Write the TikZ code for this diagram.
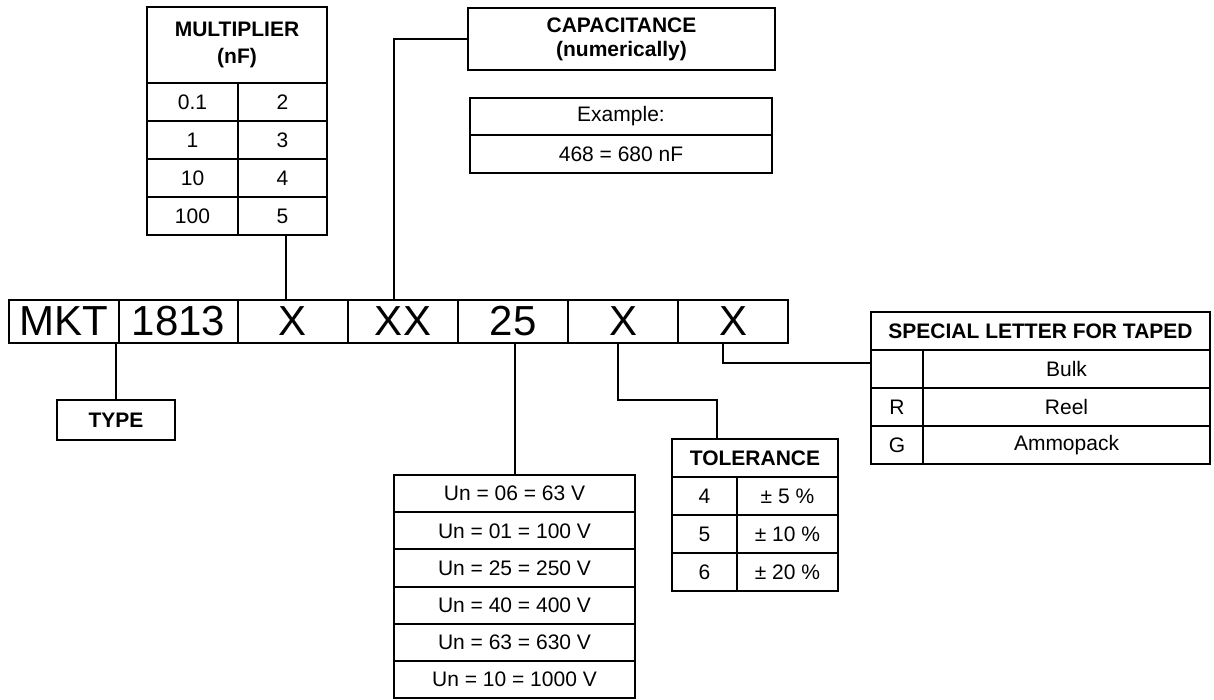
\documentclass[tikz,border=0pt]{standalone}
\usepackage{fontspec}
\setmainfont{Liberation Sans}
\usetikzlibrary{positioning}
\tikzstyle{codebox} = [rectangle,draw=black,line width=1pt,outer sep=0pt,inner sep=0pt,minimum width=55pt,minimum height=21.5pt,text centered,font=\fontsize{21}{21}\selectfont]
\tikzstyle{headbox} = [rectangle,draw=black,line width=1pt,outer sep=0pt,inner sep=0pt,minimum height=19pt,align=center,font=\fontsize{10.5}{12}\selectfont\bfseries]
\tikzstyle{rowbox} = [rectangle,draw=black,line width=1pt,outer sep=0pt,inner sep=0pt,minimum height=19pt,text centered,font=\fontsize{10.5}{12}\selectfont]
\tikzstyle{wire} = [line width=1pt]

\begin{document}
\begin{tikzpicture}[x=0.5pt,y=-0.5pt]
\useasboundingbox (0,0) rectangle (1214,700);
% type code
\node (cmkt) [codebox] at (64,321.5) {MKT};
\node (c1813) [codebox,minimum width=59.5pt,right=0pt of cmkt] {1813};
\node (cx) [codebox,right=0pt of c1813] {X};
\node (cxx) [codebox,right=0pt of cx] {XX};
\node (c25) [codebox,right=0pt of cxx] {25};
\node (cxa) [codebox,right=0pt of c25] {X};
\node (cxb) [codebox,right=0pt of cxa] {X};

% multiplier
\node (mulhead) [headbox,minimum width=90pt,minimum height=38pt,font=\fontsize{10.5}{13.5}\selectfont\bfseries] at (237,45) {MULTIPLIER\\(nF)};
\node (m1a) [rowbox,minimum width=45.5pt,below right=0pt of mulhead.south west] {0.1};
\node (m1b) [rowbox,minimum width=44.5pt,right=0pt of m1a] {2};
\node (m2a) [rowbox,minimum width=45.5pt,below=0pt of m1a] {1};
\node (m2b) [rowbox,minimum width=44.5pt,right=0pt of m2a] {3};
\node (m3a) [rowbox,minimum width=45.5pt,below=0pt of m2a] {10};
\node (m3b) [rowbox,minimum width=44.5pt,right=0pt of m3a] {4};
\node (m4a) [rowbox,minimum width=45.5pt,below=0pt of m3a] {100};
\node (m4b) [rowbox,minimum width=44.5pt,right=0pt of m4a] {5};

% capacitance
\node (cap) [headbox,minimum width=153.5pt,minimum height=31pt] at (621.5,39) {CAPACITANCE\\(numerically)};
\node (ex1) [rowbox,minimum width=151pt,minimum height=18.5pt] at (621,116.5) {Example:};
\node (ex2) [rowbox,minimum width=151pt,below=0pt of ex1] {468 = 680 nF};

% type
\node (type) [headbox,minimum width=59pt,minimum height=20pt] at (116,420) {TYPE};

% rated voltage
\node (un1) [rowbox,minimum width=120.5pt,minimum height=18.6pt] at (514.5,493.6) {Un = 06 = 63 V};
\node (un2) [rowbox,minimum width=120.5pt,minimum height=18.6pt,below=0pt of un1] {Un = 01 = 100 V};
\node (un3) [rowbox,minimum width=120.5pt,minimum height=18.6pt,below=0pt of un2] {Un = 25 = 250 V};
\node (un4) [rowbox,minimum width=120.5pt,minimum height=18.6pt,below=0pt of un3] {Un = 40 = 400 V};
\node (un5) [rowbox,minimum width=120.5pt,minimum height=18.6pt,below=0pt of un4] {Un = 63 = 630 V};
\node (un6) [rowbox,minimum width=120.5pt,minimum height=18.6pt,below=0pt of un5] {Un = 10 = 1000 V};

% tolerance
\node (tolhead) [headbox,minimum width=83pt] at (755,458) {TOLERANCE};
\node (t1a) [rowbox,minimum width=32.5pt,below right=0pt of tolhead.south west] {4};
\node (t1b) [rowbox,minimum width=50.5pt,right=0pt of t1a] {± 5 \%};
\node (t2a) [rowbox,minimum width=32.5pt,below=0pt of t1a] {5};
\node (t2b) [rowbox,minimum width=50.5pt,right=0pt of t2a] {± 10 \%};
\node (t3a) [rowbox,minimum width=32.5pt,below=0pt of t2a] {6};
\node (t3b) [rowbox,minimum width=50.5pt,right=0pt of t3a] {± 20 \%};

% special letter
\node (sphead) [headbox,minimum width=169.5pt] at (1040.5,331) {SPECIAL LETTER FOR TAPED};
\node (s1a) [rowbox,minimum width=26pt,below right=0pt of sphead.south west] {};
\node (s1b) [rowbox,minimum width=143.5pt,right=0pt of s1a] {Bulk};
\node (s2a) [rowbox,minimum width=26pt,below=0pt of s1a] {R};
\node (s2b) [rowbox,minimum width=143.5pt,right=0pt of s2a] {Reel};
\node (s3a) [rowbox,minimum width=26pt,below=0pt of s2a] {G};
\node (s3b) [rowbox,minimum width=143.5pt,right=0pt of s3a] {Ammopack};

\draw [wire] (type.north) -- (type.north |- cmkt.south);
\draw [wire] ([xshift=1.75pt]m4b.south) -- ([xshift=1.75pt]m4b.south |- cx.north);
\draw [wire] (cap.west) -| ([xshift=-4.5pt]cxx.north);
\draw [wire] (un1.north) -- (un1.north |- c25.south);
\draw [wire] ([xshift=-2.5pt]cxa.south) |- ([xshift=-19pt,yshift=19.5pt]tolhead.north) -- ([xshift=-19pt]tolhead.north);
\draw [wire] ([xshift=-5pt]cxb.south) |- ([yshift=3pt]s1a.west);
\end{tikzpicture}
\end{document}
